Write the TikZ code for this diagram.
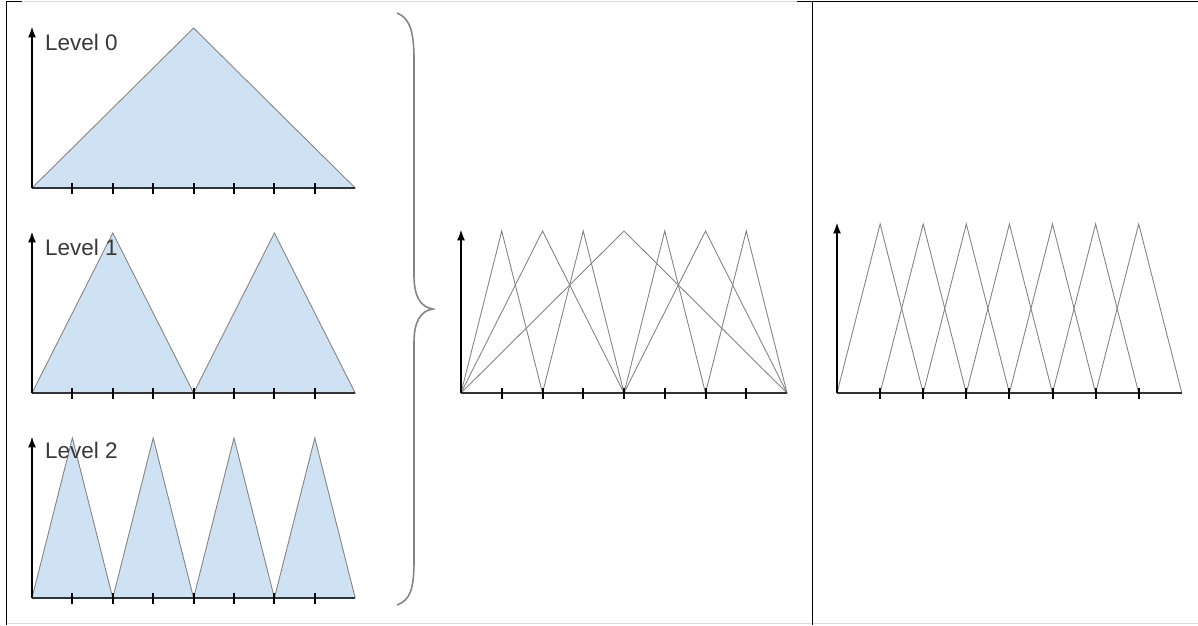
\documentclass[tikz,border=0pt]{standalone}
\usepackage{fontspec}
\setmainfont{Liberation Sans}
\usepackage{xcolor}
\usepackage{tikz}
\usetikzlibrary{arrows.meta}

\definecolor{hatblue}{HTML}{CFE2F3}
\definecolor{hatline}{HTML}{858585}
\definecolor{rulegray}{HTML}{D9D9D9}

\begin{document}
\begin{tikzpicture}[x=1pt, y=-1pt,
  yaxis/.style={line width=2pt, -{Latex[length=11pt, width=8pt]}},
  xaxis/.style={line width=2pt, draw=black!80},
  tickmark/.style={line width=2pt},
  hat/.style={draw=hatline, line width=0.9pt},
  hatfill/.style={hat, fill=hatblue},
  lvl/.style={anchor=base west, inner sep=0pt, text=black!78,
              font=\fontsize{22.5}{24}\selectfont}]
  \useasboundingbox (0,0) rectangle (1198,625);

  % frame
  \draw[rulegray, line width=1pt] (22,1.5) -- (797,1.5);
  \draw[rulegray, line width=1pt] (6,623) -- (1198,623);
  \draw[line width=1pt] (6,1.5) -- (22,1.5);
  \draw[line width=1pt] (797,1.5) -- (1198,1.5);
  \draw[line width=1pt] (6,1.5) -- (6,625);
  \draw[line width=1pt] (812,1.5) -- (812,625);

  % level 0
  \begin{scope}[shift={(32,188)}, x=40.4pt, y=160pt]
    \draw[hatfill] (0,0) -- (4,1) -- (8,0) -- cycle;
    \draw[xaxis] (0,0) -- (8,0);
    \foreach \i in {1,...,7}
      \draw[tickmark] (\i,0) +(0,-5.5pt) -- +(0,5.5pt);
    \draw[yaxis] (0,0) coordinate (o0) -- (0,1.01);
    \node[lvl] (lv0) at (0.32,0.86) {Level 0};
  \end{scope}

  % level 1
  \begin{scope}[shift={(32,393)}, x=40.4pt, y=160pt]
    \foreach \k in {0,4}
      \draw[hatfill] (\k,0) -- ++(2,1) -- ++(2,-1) -- cycle;
    \draw[xaxis] (0,0) -- (8,0);
    \foreach \i in {1,...,7}
      \draw[tickmark] (\i,0) +(0,-5.5pt) -- +(0,5.5pt);
    \draw[yaxis] (0,0) coordinate (o1) -- (0,1.01);
    \node[lvl] (lv1) at (0.32,0.86) {Level 1};
  \end{scope}

  % level 2
  \begin{scope}[shift={(32,598)}, x=40.4pt, y=160pt]
    \foreach \k in {0,2,4,6}
      \draw[hatfill] (\k,0) -- ++(1,1) -- ++(1,-1) -- cycle;
    \draw[xaxis] (0,0) -- (8,0);
    \foreach \i in {1,...,7}
      \draw[tickmark] (\i,0) +(0,-5.5pt) -- +(0,5.5pt);
    \draw[yaxis] (0,0) coordinate (o2) -- (0,1.01);
    \node[lvl] (lv2) at (0.32,0.875) {Level 2};
  \end{scope}

  % brace
  \draw[hatline, line width=1.6pt]
    (397,13) .. controls (410,18) and (414,32) .. (414,60)
    -- (414,275) .. controls (414,296) and (420,307) .. (433,309)
    .. controls (420,311) and (414,322) .. (414,343)
    -- (414,560) .. controls (414,590) and (410,600) .. (397,605);

  % all levels together
  \begin{scope}[shift={(461,393)}, x=40.75pt, y=162pt]
    \draw[hat] (0,0) -- (4,1) -- (8,0);
    \foreach \k in {0,4}
      \draw[hat] (\k,0) -- ++(2,1) -- ++(2,-1);
    \foreach \k in {0,2,4,6}
      \draw[hat] (\k,0) -- ++(1,1) -- ++(1,-1);
    \draw[xaxis] (0,0) -- (8,0);
    \foreach \i in {1,...,7}
      \draw[tickmark] (\i,0) +(0,-5.5pt) -- +(0,5.5pt);
    \draw[yaxis] (0,0) coordinate (om) -- (0,1.01);
  \end{scope}

  % nodal basis
  \begin{scope}[shift={(837,393)}, x=43.1pt, y=169pt]
    \foreach \k in {0,...,6}
      \draw[hat] (\k,0) -- ++(1,1) -- ++(1,-1);
    \draw[xaxis] (0,0) -- (8,0);
    \foreach \i in {1,...,7}
      \draw[tickmark] (\i,0) +(0,-5.5pt) -- +(0,5.5pt);
    \draw[yaxis] (0,0) coordinate (or) -- (0,1.01);
  \end{scope}
\end{tikzpicture}
\end{document}
